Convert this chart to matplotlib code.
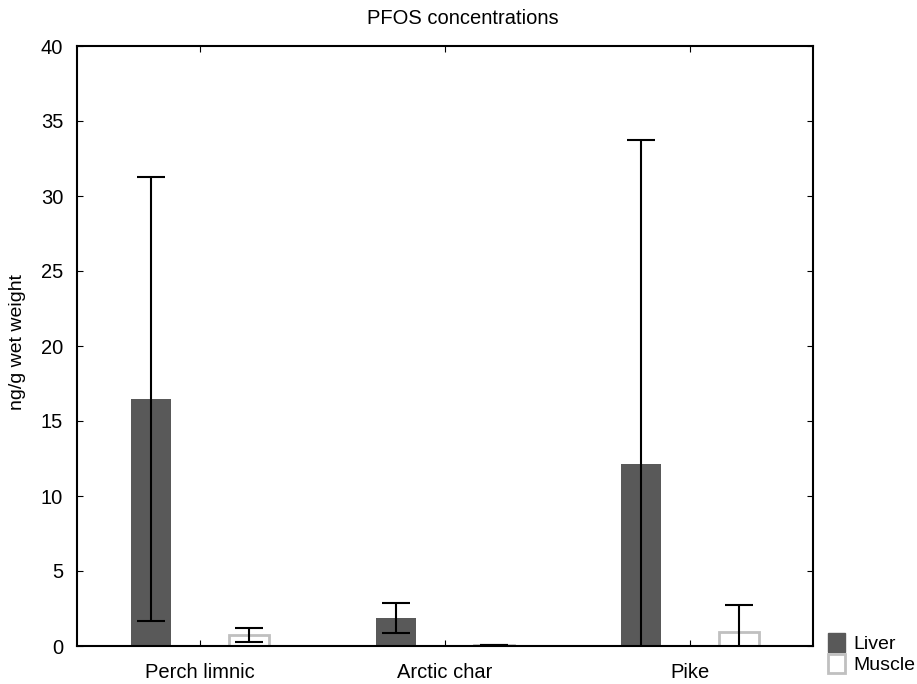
import numpy as np
import matplotlib.pyplot as plt
from matplotlib.patches import Patch

plt.rcParams['font.family'] = ['Liberation Sans', 'DejaVu Sans']

especies = ['Perch limnic', 'Arctic char', 'Pike']
liver = [16.47, 1.87, 12.13]
liver_err = [14.8, 1.0, 21.6]
muscle = [0.73, 0.07, 0.93]
muscle_err = [0.47, 0.03, 1.8]

fig = plt.figure(figsize=(9.17, 6.84), dpi=100)
ax = fig.add_axes([77/917, 38/684, 736/917, 600/684])

x = np.arange(len(especies))
ancho = 0.163
desp = 0.2

ax.bar(x - desp, liver, ancho, color='#595959', edgecolor='#595959', linewidth=0)
ax.bar(x + desp, muscle, ancho, color='white', edgecolor='#c0c0c0', linewidth=2)

ax.errorbar(x - desp, liver, yerr=liver_err, fmt='none', ecolor='black',
            elinewidth=1.5, capsize=10, capthick=1.5)
ax.errorbar(x + desp, muscle, yerr=muscle_err, fmt='none', ecolor='black',
            elinewidth=1.5, capsize=10, capthick=1.5)

ax.set_xlim(-0.5, 2.5)
ax.set_ylim(0, 40)
ax.set_xticks(x)
ax.set_xticklabels(especies, fontsize=14.5)
ax.set_yticks(np.arange(0, 41, 5))
ax.tick_params(axis='y', labelsize=14.5, direction='in', length=4, right=True, pad=10)
ax.tick_params(axis='x', direction='in', length=4, top=True, pad=12)
for s in ax.spines.values():
    s.set_linewidth(1.5)

fig.text(463/917, 1 - 18/684, 'PFOS concentrations', fontsize=14.5,
         ha='center', va='center')
fig.text(18/917, 0.5, 'ng/g wet weight', fontsize=14, rotation=90,
         ha='center', va='center')

handles = [Patch(facecolor='#595959', edgecolor='#595959', label='Liver'),
           Patch(facecolor='white', edgecolor='#c0c0c0', linewidth=2, label='Muscle')]
fig.legend(handles=handles, loc='lower left', bbox_to_anchor=(818/917, 0.0),
           frameon=False, fontsize=14, handlelength=0.9, handleheight=1.1,
           handletextpad=0.4, labelspacing=0.05, borderaxespad=0.1)

fig.savefig('out.png', dpi=100)
